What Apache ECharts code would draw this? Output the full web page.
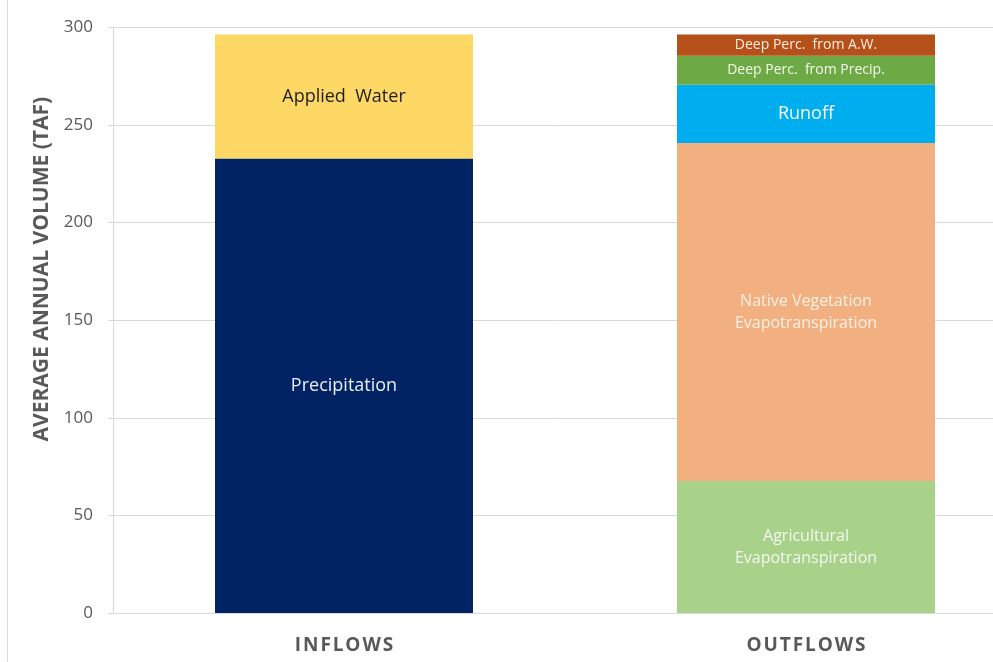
<!DOCTYPE html>
<html>
<head>
<meta charset="utf-8">
<script src="https://cdn.jsdelivr.net/npm/echarts@6/dist/echarts.min.js"></script>
<style>
html,body{margin:0;padding:0;background:#fff;}
#chart{width:993px;height:662px;}
</style>
</head>
<body>
<div id="chart"></div>
<script>
const categories = ['INFLOWS', 'OUTFLOWS'];
const yTicks = { min: 0, max: 300, interval: 50 };
const precipitation = [232.9, null];
const appliedWater = [63.4, null];
const agriculturalET = [null, 67.6];
const nativeVegET = [null, 173.2];
const runoff = [null, 29.8];
const deepPercPrecip = [null, 14.9];
const deepPercAW = [null, 10.8];

const seriesDefs = [
  { name: 'Precipitation', data: precipitation, color: '#012263', label: 'Precipitation', labelColor: '#E8EEF6', size: 18 },
  { name: 'Applied Water', data: appliedWater, color: '#FDD865', label: 'Applied  Water', labelColor: '#1e1e1e', size: 18 },
  { name: 'Agricultural Evapotranspiration', data: agriculturalET, color: '#A8D18A', label: 'Agricultural\nEvapotranspiration', labelColor: '#F4F8EE', size: 16 },
  { name: 'Native Vegetation Evapotranspiration', data: nativeVegET, color: '#F2B081', label: 'Native Vegetation\nEvapotranspiration', labelColor: '#FBF0E4', size: 16 },
  { name: 'Runoff', data: runoff, color: '#00AEEF', label: 'Runoff', labelColor: '#F2FAFF', size: 18 },
  { name: 'Deep Perc. from Precip.', data: deepPercPrecip, color: '#6DAA45', label: 'Deep Perc.  from Precip.', labelColor: '#F4F8EE', size: 14 },
  { name: 'Deep Perc. from A.W.', data: deepPercAW, color: '#B5501A', label: 'Deep Perc.  from A.W.', labelColor: '#FBEEE2', size: 14 }
];

const chart = echarts.init(document.getElementById('chart'));
chart.setOption({
  backgroundColor: '#fff',
  animation: false,
  grid: { left: 113, right: -44, top: 27.4, bottom: 49, containLabel: false, outerBoundsMode: 'none' },
  xAxis: {
    type: 'category',
    data: categories,
    axisLine: { show: true, lineStyle: { color: '#D9D9D9', width: 1 } },
    axisTick: { show: false },
    axisLabel: {
      margin: 23,
      color: '#595959',
      fontFamily: 'Open Sans',
      fontWeight: 'bold',
      fontSize: 19,
      formatter: v => v.split('').join('\u200A')
    }
  },
  yAxis: {
    type: 'value',
    min: yTicks.min, max: yTicks.max, interval: yTicks.interval,
    name: 'AVERAGE ANNUAL VOLUME (TAF)',
    nameLocation: 'middle',
    nameGap: 57,
    nameTextStyle: { color: '#595959', fontFamily: 'Open Sans', fontWeight: 'bold', fontSize: 21, padding: [0, 0, 0, 102] },
    axisLine: { show: true, lineStyle: { color: '#D9D9D9' } },
    axisTick: { show: true, length: 5, lineStyle: { color: '#D9D9D9' } },
    splitLine: { show: true, lineStyle: { color: '#D9D9D9', width: 1 } },
    axisLabel: { margin: 20, color: '#595959', fontFamily: 'Open Sans', fontSize: 17 }
  },
  graphic: [
    { type: 'line', shape: { x1: 7.5, y1: 0, x2: 7.5, y2: 662 }, style: { stroke: '#D9D9D9', lineWidth: 1 } }
  ],
  series: seriesDefs.map(s => ({
    name: s.name,
    type: 'bar',
    stack: 'total',
    barWidth: 258,
    data: s.data.map(v => v === null ? '-' : v),
    itemStyle: { color: s.color },
    label: {
      show: true,
      position: 'inside',
      formatter: s.label,
      color: s.labelColor,
      fontFamily: 'Open Sans',
      fontSize: s.size,
      lineHeight: Math.round(s.size * 1.4)
    }
  }))
});
</script>
</body>
</html>
